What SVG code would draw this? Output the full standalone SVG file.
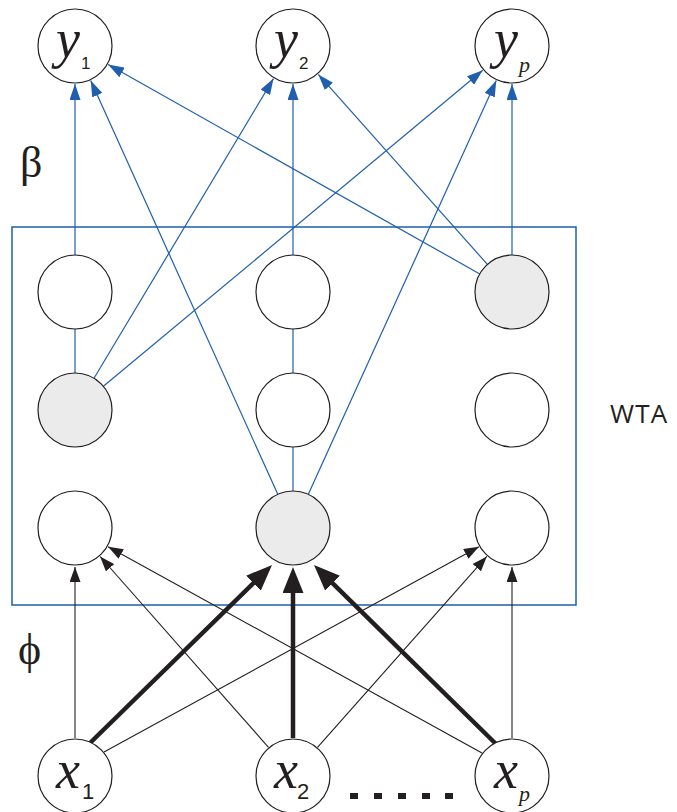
<svg xmlns="http://www.w3.org/2000/svg" width="677" height="812" viewBox="0 0 677 812">
<defs>
<style>
.node{fill:#ffffff;stroke:#231f20;stroke-width:1.2}
.hl{fill:#ebebeb}
.blue{stroke:#1f5fae;stroke-width:1.2;fill:none;marker-end:url(#ab)}
.thin{stroke:#231f20;stroke-width:1.1;fill:none;marker-end:url(#ak)}
.thick{stroke:#231f20;stroke-width:4.5;fill:none;marker-end:url(#at)}
.var{font-family:"Liberation Serif","Times New Roman",serif;font-style:italic;fill:#231f20}
.sub{font-family:"Liberation Sans",Arial,sans-serif;fill:#231f20}
.greek{font-family:"Liberation Serif","Times New Roman",serif;fill:#231f20}
</style>
<marker id="ab" markerUnits="userSpaceOnUse" markerWidth="16" markerHeight="11" refX="16" refY="5.5" orient="auto"><path d="M0,0 L16,5.5 L0,11 z" fill="#1f5fae"/></marker>
<marker id="ak" markerUnits="userSpaceOnUse" markerWidth="15" markerHeight="11" refX="15" refY="5.5" orient="auto"><path d="M0,0 L15,5.5 L0,11 z" fill="#231f20"/></marker>
<marker id="at" markerUnits="userSpaceOnUse" markerWidth="26" markerHeight="21" refX="4" refY="10.5" orient="auto"><path d="M0,0 L26,10.5 L0,21 z" fill="#231f20"/></marker>
</defs>
<rect width="677" height="812" fill="#ffffff"/>
<rect id="wta-box" x="12" y="227" width="564" height="378" fill="none" stroke="#1f5fae" stroke-width="1.5"/>
<g id="connectors">
<line class="blue" x1="75" y1="373" x2="75" y2="84"/>
<line class="blue" x1="94" y1="378.3" x2="273.5" y2="78.6"/>
<line class="blue" x1="103.4" y1="386.3" x2="482.8" y2="70.3"/>
<line class="blue" x1="277.8" y1="494.3" x2="90.7" y2="80.6"/>
<line class="blue" x1="293" y1="491" x2="293" y2="84"/>
<line class="blue" x1="308.3" y1="494.3" x2="496.3" y2="80.6"/>
<line class="blue" x1="479.8" y1="273.9" x2="108.1" y2="64.6"/>
<line class="blue" x1="487.4" y1="264.4" x2="318.3" y2="74.4"/>
<line class="blue" x1="512" y1="255" x2="512" y2="84"/>
<line class="thin" x1="75" y1="738" x2="75" y2="567"/>
<line class="thin" x1="104" y1="752" x2="478.9" y2="546.7"/>
<line class="thin" x1="268.5" y1="747.3" x2="100.1" y2="556.5"/>
<line class="thin" x1="317.5" y1="747.3" x2="486.8" y2="556.4"/>
<line class="thin" x1="482" y1="753" x2="108.1" y2="546.7"/>
<line class="thin" x1="512" y1="738" x2="512" y2="567"/>
<line class="thick" x1="89" y1="744" x2="256.3" y2="580.4"/>
<line class="thick" x1="293" y1="738" x2="293" y2="589"/>
<line class="thick" x1="496" y1="744" x2="329.7" y2="580.4"/>
</g>
<g id="y1"><circle class="node" cx="75" cy="46" r="37"/><text class="var" x="56" y="57" font-size="54">y</text><text class="sub" x="81" y="69" font-size="17">1</text></g>
<g id="y2"><circle class="node" cx="293" cy="46" r="37"/><text class="var" x="274" y="57" font-size="54">y</text><text class="sub" x="299" y="69" font-size="17">2</text></g>
<g id="yp"><circle class="node" cx="512" cy="46" r="37"/><text class="var" x="494" y="57" font-size="54">y</text><text class="var" x="519" y="72" font-size="22">p</text></g>
<g id="h11"><circle class="node" cx="75" cy="292" r="37"/></g>
<g id="h12"><circle class="node" cx="293" cy="292" r="37"/></g>
<g id="h13"><circle class="node hl" cx="512" cy="292" r="37"/></g>
<g id="h21"><circle class="node hl" cx="75" cy="410" r="37"/></g>
<g id="h22"><circle class="node" cx="293" cy="410" r="37"/></g>
<g id="h23"><circle class="node" cx="512" cy="410" r="37"/></g>
<g id="h31"><circle class="node" cx="75" cy="528" r="37"/></g>
<g id="h32"><circle class="node hl" cx="293" cy="528" r="37"/></g>
<g id="h33"><circle class="node" cx="512" cy="528" r="37"/></g>
<g id="x1"><circle class="node" cx="75" cy="776" r="37"/><text class="var" x="56" y="788" font-size="54">x</text><text class="sub" x="82" y="799" font-size="22">1</text></g>
<g id="x2"><circle class="node" cx="293" cy="776" r="37"/><text class="var" x="274" y="788" font-size="54">x</text><text class="sub" x="297" y="799" font-size="22">2</text></g>
<g id="xp"><circle class="node" cx="512" cy="776" r="37"/><text class="var" x="494" y="788" font-size="54">x</text><text class="var" x="519" y="801" font-size="22">p</text></g>
<g id="dots" fill="#231f20">
<rect x="350" y="793" width="8" height="6"/><rect x="374" y="793" width="8" height="6"/><rect x="398" y="793" width="8" height="6"/><rect x="422" y="793" width="8" height="6"/><rect x="445" y="793" width="8" height="6"/>
</g>
<text class="greek" x="20" y="177" font-size="44">β</text>
<text class="greek" x="18" y="664" font-size="44">ϕ</text>
<text x="610" y="423" font-family="'Open Sans','Liberation Sans',Arial,sans-serif" font-size="26" letter-spacing="1.2" fill="#231f20">WTA</text>
</svg>
